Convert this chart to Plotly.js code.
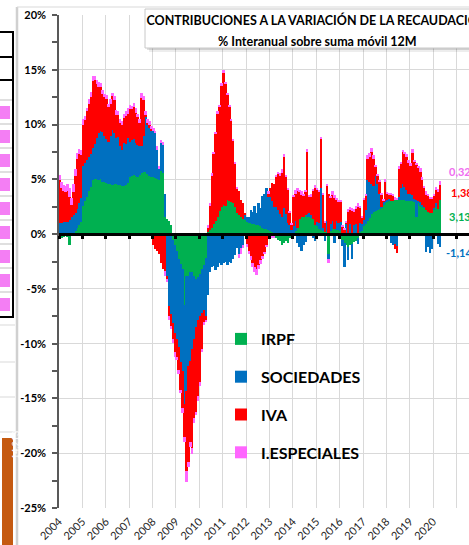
<!DOCTYPE html>
<html><head><meta charset="utf-8">
<script src="https://cdn.plot.ly/plotly-3.0.1.min.js"></script>
<style>html,body{margin:0;padding:0;overflow:hidden;background:#fff;width:469px;height:545px}#chart{width:500px;height:545px}</style>
</head><body><div id="chart"></div><script>
const startYear = 2004;
const seriesNames = ['IRPF', 'SOCIEDADES', 'IVA', 'I.ESPECIALES'];
const seriesColors = ['#00B050', '#0070C0', '#FF0000', '#FF66FF'];
const yearLabels = ['2004','2005','2006','2007','2008','2009','2010','2011','2012','2013','2014','2015','2016','2017','2018','2019','2020'];
const yTickVals = [-25, -20, -15, -10, -5, 0, 5, 10, 15, 20];
const yTickText = ['-25%', '-20%', '-15%', '-10%', '-5%', '0%', '5%', '10%', '15%', '20%'];
const titleText = 'CONTRIBUCIONES A LA VARIACIÓN DE LA RECAUDACIÓN';
const subtitleText = '% Interanual sobre suma móvil 12M';
const sideBoxText = '14.213';

const irpf = [
 -0.3,-0.4,-0.3,-0.2,-0.3,-1.0,-0.2,0.1,0.3,0.6,0.8,1.1,
 2.6,3.0,3.4,3.9,4.3,4.9,5.0,5.0,4.9,5.0,4.8,4.8,
 4.7,4.6,4.6,4.5,4.6,4.6,4.5,4.5,4.4,4.4,4.5,4.7,
 5.2,5.3,5.4,5.3,5.2,5.4,5.6,5.7,5.7,5.5,5.3,5.2,
 5.2,5.1,5.0,4.9,5.8,5.6,1.6,1.4,1.2,0.8,-0.5,-1.0,
 -1.5,-2.3,-2.7,-3.2,-6.5,-3.8,-3.8,-3.5,-3.5,-3.8,-4.1,-3.9,
 -3.6,-3.2,-2.8,-2.2,0.2,0.4,0.6,0.9,1.2,1.6,2.1,2.5,
 2.7,2.6,3.1,3.0,2.9,2.8,2.5,1.9,1.7,1.6,1.4,1.3,
 1.1,1.0,1.0,0.9,0.9,0.8,0.8,0.7,0.6,0.5,0.5,0.4,
 0.3,0.2,-0.2,-0.4,-0.5,-0.6,-1.0,-0.8,-0.6,-0.8,-0.4,-0.3,
 0.1,0.3,0.6,1.4,1.6,1.6,1.7,1.6,1.6,1.5,1.4,0.8,
 0.7,0.5,0.4,0.3,0.2,0.2,-1.8,0.3,0.5,0.5,0.4,0.4,
 0.3,-0.5,-0.8,-1.0,-1.2,-1.0,-0.9,-0.7,-0.6,-0.4,0.2,0.3,
 0.7,0.9,1.2,1.5,1.8,2.0,2.1,2.2,2.3,2.4,2.7,2.9,
 3.0,3.0,3.0,3.0,3.1,3.1,3.1,3.1,3.1,3.1,3.0,3.0,
 3.0,3.0,2.9,1.6,2.8,2.6,2.5,2.4,2.2,2.0,1.9,1.9,
 2.2,2.5,2.3,3.13
];
const sociedades = [
 1.0,1.0,1.1,1.1,1.1,1.3,1.6,1.6,1.6,1.7,2.0,2.2,
 3.6,3.5,3.4,3.1,3.0,3.0,3.2,3.8,4.3,4.4,4.5,4.2,
 4.0,3.8,4.4,5.0,4.6,4.2,4.4,3.5,3.3,3.9,3.7,4.1,
 3.2,3.3,3.3,3.0,2.9,2.6,2.4,3.3,5.0,4.5,4.4,4.2,
 4.2,4.1,2.7,1.0,2.5,2.5,2.1,-3.8,-6.6,-7.3,-7.6,-8.0,
 -8.1,-8.0,-9.0,-9.3,-9.0,-10.5,-8.2,-8.1,-7.0,-5.8,-4.4,-3.9,
 -3.9,-4.0,-4.1,-5.3,-5.6,-3.5,-3.0,-2.9,-3.3,-3.0,-2.6,-2.8,
 -2.6,-2.5,-2.8,-2.5,-2.6,-2.3,-1.9,-1.3,-1.8,-1.3,-1.0,0.5,
 0.5,0.6,1.2,1.1,1.7,1.1,2.0,1.7,2.9,3.2,3.7,3.0,
 3.1,2.8,2.5,2.5,2.2,1.8,1.6,2.4,1.8,1.0,0.8,0.4,
 0.6,0.9,-0.8,-1.2,-1.5,-1.0,-0.7,0.2,0.3,0.2,-0.4,-0.6,
 0.4,0.5,3.8,0.3,-0.6,1.0,-0.5,0.6,0.7,-0.8,0.8,0.6,
 0.8,-0.6,-2.2,1.0,-1.2,0.9,-1.4,0.8,0.9,-0.5,0.8,0.6,
 0.6,1.3,3.7,3.3,2.8,2.4,3.2,2.4,1.4,0.1,0.2,0.1,
 0.1,0.2,-0.8,-1.0,-0.9,-1.1,0.3,1.1,1.5,1.2,1.0,0.7,
 0.7,0.6,0.3,1.5,0.2,0.3,0.2,0.1,-1.6,-1.2,-1.7,-1.4,
 0.2,0.3,-0.9,-1.14
];
const iva = [
 3.9,3.2,2.8,2.7,2.8,2.1,1.1,2.1,3.4,4.6,4.5,3.9,
 3.8,3.9,4.4,4.9,5.2,6.1,5.9,4.9,4.2,4.0,3.5,3.5,
 3.6,3.2,2.9,3.1,3.0,2.1,2.0,2.1,2.3,2.3,2.6,2.2,
 3.0,2.8,2.9,2.8,2.6,2.1,4.4,3.2,0.2,0.1,0.3,0.2,
 -1.0,-1.4,-1.5,-1.8,-2.6,-3.2,-3.4,-0.3,-0.9,-1.1,-1.5,-1.8,
 -1.6,-2.1,-2.5,-3.4,-3.0,-7.3,-8.8,-7.4,-9.0,-7.2,-7.7,-7.0,
 -6.0,-3.3,-1.1,-0.3,0.4,2.2,4.7,6.4,7.9,9.4,9.5,11.0,
 12.0,11.1,9.6,8.6,7.4,5.7,3.9,2.2,2.2,1.5,1.4,0.1,
 -0.9,-1.5,-2.0,-2.6,-3.0,-3.2,-2.8,-2.4,-2.0,-1.6,-1.0,0.3,
 0.8,1.7,2.1,2.8,3.3,3.5,4.0,4.6,3.4,3.0,1.2,0.5,
 2.7,2.5,3.3,2.4,2.0,1.9,2.1,5.7,1.5,1.7,2.5,3.4,
 3.0,2.9,4.5,3.0,0.9,3.2,3.7,2.4,2.4,2.8,1.9,2.0,
 1.9,0.7,0.4,0.1,2.0,1.3,2.1,1.2,1.4,2.5,1.4,0.6,
 1.8,1.3,2.0,2.2,2.9,2.5,0.8,0.7,1.1,1.1,0.2,1.8,
 0.6,0.4,0.6,0.5,-0.5,-0.6,2.5,2.2,2.9,3.0,3.0,2.8,
 2.5,3.8,3.4,3.2,3.0,2.8,2.2,1.7,1.4,1.5,1.3,1.3,
 1.1,1.2,1.5,1.38
];
const iespeciales = [
 0.5,0.6,0.6,0.6,0.7,0.8,0.6,0.8,0.6,0.5,0.5,0.5,
 0.5,0.4,0.3,0.4,0.5,0.4,0.3,0.4,0.5,0.4,0.4,0.3,
 0.4,0.3,0.4,0.3,0.4,0.4,0.3,0.4,0.3,0.4,0.4,0.5,
 0.4,0.3,0.4,0.4,0.3,0.4,0.5,0.4,0.3,0.4,0.3,0.3,
 0.3,0.2,0.3,0.3,0.3,0.3,-0.4,-0.3,-0.3,-0.3,-0.3,-0.4,
 -0.3,-0.4,-0.3,-0.4,-0.5,-1.0,-0.5,-0.4,-0.6,-0.4,-0.3,-0.4,
 -0.4,-0.3,-0.3,-0.2,0.2,0.2,0.3,0.2,0.2,0.2,0.2,0.3,
 0.3,0.2,0.2,0.2,0.2,0.2,0.2,0.2,-0.4,-0.5,-0.3,-0.2,
 -0.3,-0.3,-0.4,-0.4,-0.5,-0.5,-0.4,-0.3,-0.3,-0.2,-0.2,0.2,
 -0.3,-0.4,-0.2,0.1,0.2,0.3,0.3,0.3,0.2,0.2,0.1,0.1,
 0.2,0.3,0.3,0.2,0.3,0.2,0.2,0.3,0.2,0.3,0.2,0.3,
 0.1,0.1,0.1,0.1,0.1,0.1,-0.3,0.2,0.3,0.3,0.2,0.1,
 0.1,0.1,0.1,0.1,0.3,0.3,0.3,0.3,0.3,0.3,0.2,0.1,
 0.2,0.2,0.3,0.4,0.4,0.3,0.2,0.2,0.1,0.1,0.1,0.2,
 0.1,0.1,0.1,0.1,0.3,0.2,0.3,0.2,0.2,0.2,0.3,0.3,
 0.3,0.4,0.2,0.2,0.2,0.3,0.3,0.2,0.3,0.2,0.2,0.2,
 0.2,0.3,0.3,0.32
];

// month positions (mid-month, in fractional years)
const months = irpf.map((_, i) => startYear + (i + 0.5) / 12);
const yearTicks = yearLabels.map(Number).concat([2021]);
const yearText = yearLabels.concat(['']);

const W = 500, H = 545, M = {l: 59, r: 20, t: 15, b: 37};
const PW = W - M.l - M.r, PH = H - M.t - M.b;
const X = px => (px - M.l) / PW;
const Y = py => (M.t + PH - py) / PH;
const xRange = [2004, 2022];
const yRange = [-25, 20];

const allSeries = [irpf, sociedades, iva, iespeciales];
const data = allSeries.map((vals, k) => ({
  type: 'bar', x: months, y: vals, name: seriesNames[k],
  marker: {color: seriesColors[k], line: {width: 0}},
  legendgroup: 'g' + k, hoverinfo: 'skip'
}));
data.push({type: 'scatter', x: [], y: [], xaxis: 'x2', yaxis: 'y', showlegend: false, hoverinfo: 'skip'});

// decorative fragments and frame
const shapes = [];
const P = (o) => Object.assign({xref: 'paper', yref: 'paper', layer: 'above'}, o);
shapes.push(P({type: 'line', x0: X(17), x1: X(17), y0: Y(7), y1: Y(570), line: {color: '#d0d0d0', width: 2.5}}));
shapes.push(P({type: 'line', x0: X(17), x1: X(530), y0: Y(7), y1: Y(7), line: {color: '#d9d9d9', width: 1}}));
// title box shadow + box
shapes.push(P({type: 'rect', x0: X(149), x1: X(530), y0: Y(52), y1: Y(13), fillcolor: 'rgba(0,0,0,0.07)', line: {width: 0}}));
shapes.push(P({type: 'rect', x0: X(147), x1: X(530), y0: Y(50), y1: Y(11), fillcolor: 'rgba(0,0,0,0.12)', line: {width: 0}}));
shapes.push(P({type: 'rect', x0: X(145), x1: X(530), y0: Y(48), y1: Y(9), fillcolor: '#ffffff', line: {color: '#c8c8c8', width: 1}}));
// left table fragment
[100, 124, 148, 172, 196, 220, 244, 268, 292].forEach(py => shapes.push(P({type: 'line', x0: X(-2), x1: X(13), y0: Y(py), y1: Y(py), line: {color: '#bfbfbf', width: 1}})));
[106, 130, 154, 178, 202, 226, 250, 274, 298].forEach(py => shapes.push(P({type: 'rect', x0: X(-2), x1: X(10), y0: Y(py + 13), y1: Y(py), fillcolor: '#f47ef4', line: {width: 0}})));
[32, 57, 80, 317].forEach(py => shapes.push(P({type: 'line', x0: X(-2), x1: X(14), y0: Y(py), y1: Y(py), line: {color: '#000', width: 2}})));
shapes.push(P({type: 'line', x0: X(13), x1: X(13), y0: Y(31), y1: Y(318), line: {color: '#000', width: 2}}));
[325, 362, 397, 432].forEach(py => shapes.push(P({type: 'line', x0: X(-2), x1: X(15), y0: Y(py), y1: Y(py), line: {color: '#d9d9d9', width: 1}})));
shapes.push(P({type: 'rect', x0: X(2), x1: X(13), y0: Y(570), y1: Y(438), fillcolor: '#C55A11', line: {width: 0}}));

const last = irpf.length - 1;
const fmt = v => v.toFixed(2).replace('.', ',') + '%';
const g = irpf[last], b = sociedades[last], r = iva[last], p = iespeciales[last];
const lblFont = c => ({family: 'Lato, sans-serif', size: 11, weight: 'bold', color: c});
const annotations = [
  {xref: 'paper', yref: 'paper', x: X(317), y: Y(41), text: subtitleText, showarrow: false, xanchor: 'center', yanchor: 'middle',
   font: {family: 'Lato, sans-serif', size: 12.5, weight: 'bold', color: '#000'}},
  {x: months[last], y: g + r + p / 2, text: fmt(p), showarrow: false, xanchor: 'left', xshift: 7, yshift: 11, font: lblFont('#F06CF0')},
  {x: months[last], y: g + r / 2, text: fmt(r), showarrow: false, xanchor: 'left', xshift: 9, font: lblFont('#FF0000')},
  {x: months[last], y: g / 2, text: fmt(g), showarrow: false, xanchor: 'left', xshift: 7, font: lblFont('#00B050')},
  {x: months[last], y: b / 2, text: fmt(b), showarrow: false, xanchor: 'left', xshift: 4, yshift: -12, font: lblFont('#0070C0')},
  {xref: 'paper', yref: 'paper', x: X(7.5), y: Y(461), text: sideBoxText, showarrow: false, textangle: -90,
   font: {family: 'Lato, sans-serif', size: 9, color: '#ffffff'}}
];

const layout = {
  width: W, height: H, margin: Object.assign({pad: 0}, M),
  paper_bgcolor: '#ffffff', plot_bgcolor: '#ffffff',
  barmode: 'relative', bargap: 0,
  font: {family: 'Lato, sans-serif', color: '#000'},
  title: {text: titleText, x: 317 / W, xref: 'container', xanchor: 'center', y: 1 - 21 / H, yref: 'container', yanchor: 'middle',
    font: {family: 'Lato, sans-serif', size: 12.5, weight: 'bold', color: '#000'}},
  xaxis: {range: xRange, tickmode: 'array', tickvals: yearTicks, ticktext: yearText, tickangle: -45,
    showgrid: true, gridcolor: '#d9d9d9', gridwidth: 1, zeroline: false, showline: false, ticks: '',
    tickfont: {family: 'Lato, sans-serif', size: 11, color: '#262626'}, ticklabelstandoff: 4, fixedrange: true},
  xaxis2: {overlaying: 'x', anchor: 'free', position: (0 - yRange[0]) / (yRange[1] - yRange[0]), range: xRange,
    tickmode: 'array', tickvals: yearTicks, showticklabels: false, ticks: 'outside', ticklen: 3, tickwidth: 3, tickcolor: '#000',
    showline: true, linecolor: '#000', linewidth: 2.5, showgrid: false, zeroline: false, fixedrange: true},
  yaxis: {range: yRange, tickmode: 'array', tickvals: yTickVals, ticktext: yTickText, showgrid: true, gridcolor: '#d9d9d9', gridwidth: 1,
    zeroline: false, showline: true, linecolor: '#595959', linewidth: 1.5, ticks: 'outside', ticklen: 5, tickwidth: 1.5, tickcolor: '#595959',
    minor: {tick0: 0, dtick: 2.5, ticks: 'outside', ticklen: 5, tickwidth: 1.5, tickcolor: '#595959', showgrid: false},
    tickfont: {family: 'Lato, sans-serif', size: 11, weight: 'bold', color: '#000'}, ticklabelstandoff: 4, fixedrange: true},
  legend: {x: X(221), xanchor: 'left', y: Y(322), yanchor: 'top', bgcolor: 'rgba(0,0,0,0)', borderwidth: 0,
    font: {family: 'Lato, sans-serif', size: 16, weight: 'bold', color: '#000'}, traceorder: 'grouped', tracegroupgap: 14},
  showlegend: true,
  shapes: shapes,
  annotations: annotations
};

Plotly.newPlot('chart', data, layout, {displayModeBar: false, responsive: false});
</script></body></html>
